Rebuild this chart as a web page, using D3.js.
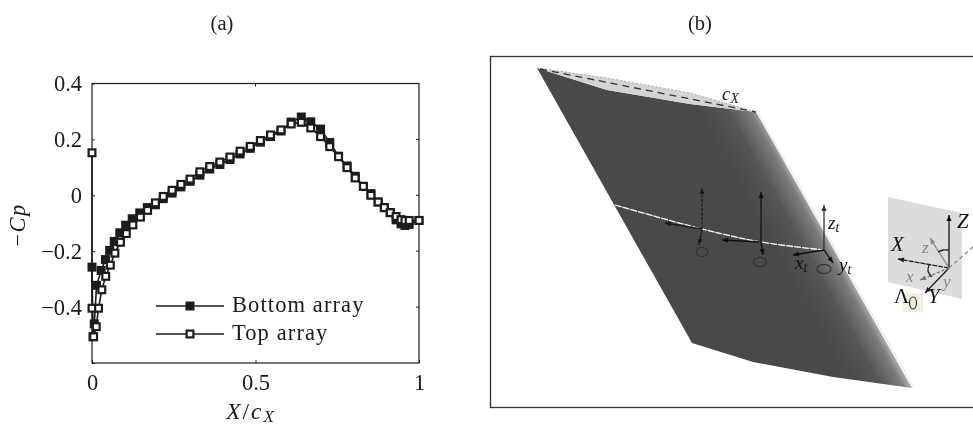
<!DOCTYPE html>
<html>
<head>
<meta charset="utf-8">
<script src="https://cdn.jsdelivr.net/npm/d3@7"></script>
<style>
  html, body { margin: 0; padding: 0; background: #fff; }
  svg { display: block; opacity: 0.999; }
  text { font-family: "Liberation Serif", serif; fill: #1a1a1a; }
  .math { font-style: italic; }
</style>
</head>
<body>
<svg id="chart" width="973" height="425"></svg>
<script>
// --- Panel (a) data ---
const topX = [0, 0, 0.005, 0.013, 0.02, 0.03, 0.042, 0.056, 0.07, 0.087, 0.105, 0.125, 0.148, 0.17, 0.194, 0.218, 0.245, 0.272, 0.30, 0.33, 0.36, 0.391, 0.422, 0.453, 0.484, 0.515, 0.546, 0.578, 0.609, 0.64, 0.669, 0.699, 0.727, 0.754, 0.78, 0.805, 0.83, 0.853, 0.875, 0.894, 0.912, 0.93, 0.945, 0.957, 0.97, 1];
const topY = [0.152, -0.404, -0.506, -0.47, -0.404, -0.338, -0.29, -0.25, -0.207, -0.168, -0.137, -0.106, -0.078, -0.054, -0.027, -0.004, 0.018, 0.039, 0.058, 0.084, 0.103, 0.119, 0.137, 0.158, 0.175, 0.196, 0.216, 0.234, 0.255, 0.261, 0.241, 0.21, 0.174, 0.138, 0.099, 0.062, 0.032, 0, -0.024, -0.044, -0.062, -0.076, -0.087, -0.09, -0.09, -0.09];
const bottomX = [0, 0.003, 0.007, 0.014, 0.028, 0.041, 0.054, 0.068, 0.085, 0.103, 0.123, 0.146, 0.169, 0.194, 0.218, 0.245, 0.272, 0.30, 0.33, 0.36, 0.391, 0.422, 0.453, 0.484, 0.515, 0.546, 0.578, 0.609, 0.64, 0.669, 0.699, 0.727, 0.754, 0.78, 0.805, 0.83, 0.853, 0.875, 0.894, 0.912, 0.93, 0.945, 0.957, 0.97, 1];
const bottomY = [-0.257, -0.506, -0.46, -0.322, -0.269, -0.23, -0.197, -0.165, -0.134, -0.107, -0.084, -0.063, -0.044, -0.034, -0.012, 0.008, 0.03, 0.05, 0.072, 0.094, 0.11, 0.128, 0.148, 0.168, 0.19, 0.21, 0.23, 0.262, 0.28, 0.263, 0.237, 0.189, 0.14, 0.105, 0.068, 0.032, 0.006, -0.024, -0.044, -0.062, -0.088, -0.102, -0.108, -0.104, -0.09];
const xTicks = [0, 0.5, 1];
const xTickLabels = ['0', '0.5', '1'];
const yTicks = [-0.6, -0.4, -0.2, 0, 0.2, 0.4];
const yTickLabels = ['', '\u22120.4', '\u22120.2', '0', '0.2', '0.4'];
const legendNames = ['Bottom array', 'Top array'];

// --- Panel (b) illustration outlines ---
const wingTop = [[537, 68], [607, 90], [690, 104], [756, 112]];
const wingRest = [[912, 388], [833, 377], [753, 362], [692, 343]];
const bandTop = [[537, 68], [607, 78], [690, 93], [756, 112]];
const sweepPlane = [[888, 197], [962, 213], [962, 299], [888, 282]];
const wirePts = [[615, 205], [702, 229], [761, 242], [824, 250]];

const svg = d3.select('#chart');
const margin = { left: 92, right: 419, top: 83.5, bottom: 363 };
const x = d3.scaleLinear().domain([0, 1]).range([margin.left, margin.right]);
const y = d3.scaleLinear().domain([-0.6, 0.4]).range([margin.bottom, margin.top]);

const ink = '#1c1c1c';
const fs = 22.5;

// --- Panel titles ---
svg.append('text').attr('x', 222).attr('y', 30).attr('font-size', 20.5).attr('text-anchor', 'middle').text('(a)');
svg.append('text').attr('x', 700).attr('y', 30).attr('font-size', 20.5).attr('text-anchor', 'middle').text('(b)');

// --- Panel (a) axes ---
const a = svg.append('g');
a.append('rect')
  .attr('x', margin.left).attr('y', margin.top)
  .attr('width', margin.right - margin.left).attr('height', margin.bottom - margin.top)
  .attr('fill', 'none').attr('stroke', ink).attr('stroke-width', 1.2);

const xAxis = d3.axisBottom(x).tickValues(xTicks).tickSize(-3).tickPadding(11)
  .tickFormat((d, i) => xTickLabels[i]);
const yAxis = d3.axisLeft(y).tickValues(yTicks).tickSize(-3).tickPadding(10)
  .tickFormat((d, i) => yTickLabels[i]);
const gx = a.append('g').attr('transform', `translate(0,${margin.bottom})`).call(xAxis);
const gy = a.append('g').attr('transform', `translate(${margin.left},0)`).call(yAxis);
[gx, gy].forEach(g => {
  g.select('.domain').remove();
  g.selectAll('line').attr('stroke', ink);
  g.selectAll('text').attr('font-size', fs).attr('font-family', '"Liberation Serif", serif').attr('fill', ink);
});
// mirrored ticks on top and right
a.selectAll('.tick-top').data(xTicks.slice(1, -1)).enter().append('line')
  .attr('x1', d => x(d)).attr('x2', d => x(d))
  .attr('y1', margin.top).attr('y2', margin.top + 3).attr('stroke', ink);
a.selectAll('.tick-right').data(yTicks.slice(1, -1)).enter().append('line')
  .attr('x1', margin.right - 3).attr('x2', margin.right)
  .attr('y1', d => y(d)).attr('y2', d => y(d)).attr('stroke', ink);

// axis titles
const xt = a.append('text').attr('x', 251).attr('y', 419).attr('font-size', 23.5)
  .attr('letter-spacing', 2).attr('text-anchor', 'middle');
xt.append('tspan').attr('class', 'math').text('X');
xt.append('tspan').text('/');
xt.append('tspan').attr('class', 'math').text('c');
xt.append('tspan').attr('class', 'math').attr('font-size', 17).attr('dy', 3).text('X');
a.append('text').attr('transform', 'translate(25,225) rotate(-90)')
  .attr('font-size', fs).attr('letter-spacing', 1.5).attr('text-anchor', 'middle')
  .html('\u2212<tspan class="math">Cp</tspan>');

// --- Panel (a) series ---
const zip = (xs, ys) => xs.map((d, i) => [d, ys[i]]);
const bottomPts = zip(bottomX, bottomY);
const topPts = zip(topX, topY);
const line = d3.line().x(d => x(d[0])).y(d => y(d[1]));
const s = 6.8;

function drawSeries(pts, filled) {
  a.append('path').attr('d', line(pts)).attr('fill', 'none').attr('stroke', ink).attr('stroke-width', 1.6);
  a.selectAll(null).data(pts).enter().append('rect')
    .attr('x', d => x(d[0]) - s / 2).attr('y', d => y(d[1]) - s / 2)
    .attr('width', s).attr('height', s)
    .attr('fill', filled ? ink : '#fff').attr('stroke', ink).attr('stroke-width', 2.2);
}
drawSeries(bottomPts, true);
drawSeries(topPts, false);

// legend
legendNames.forEach((name, i) => {
  const ly = 306 + i * 28;
  a.append('line').attr('x1', 156).attr('x2', 224).attr('y1', ly).attr('y2', ly)
    .attr('stroke', ink).attr('stroke-width', 1.7);
  a.append('rect').attr('x', 190 - s / 2).attr('y', ly - s / 2).attr('width', s).attr('height', s)
    .attr('fill', i === 0 ? ink : '#fff').attr('stroke', ink).attr('stroke-width', 2.2);
  a.append('text').attr('x', 232).attr('y', ly + 6).attr('font-size', fs).attr('letter-spacing', 1.1).text(name);
});

// --- Panel (b) ---
const b = svg.append('g');
const defs = svg.append('defs');
const grad = defs.append('linearGradient').attr('id', 'wingShade')
  .attr('gradientUnits', 'userSpaceOnUse')
  .attr('x1', 712).attr('y1', 136).attr('x2', 757).attr('y2', 111);
grad.append('stop').attr('offset', 0).attr('stop-color', '#4a4a4a');
grad.append('stop').attr('offset', 0.5).attr('stop-color', '#555');
grad.append('stop').attr('offset', 0.88).attr('stop-color', '#7c7c7c');
grad.append('stop').attr('offset', 1).attr('stop-color', '#a8a8a8');
defs.append('filter').attr('id', 'soft').append('feGaussianBlur').attr('stdDeviation', 0.6);

const poly = d3.line();
const smooth = d3.line().curve(d3.curveCatmullRom);
b.append('rect').attr('x', 490.5).attr('y', 56.5).attr('width', 490).attr('height', 351)
  .attr('fill', '#fff').attr('stroke', '#333').attr('stroke-width', 1.3);
const art = b.append('g').attr('filter', 'url(#soft)');
art.append('path').attr('d', poly(wingTop.concat(wingRest)) + 'Z').attr('fill', 'url(#wingShade)');
art.append('path').attr('d', poly(bandTop.concat(wingTop.slice().reverse())) + 'Z').attr('fill', '#d4d4d4');
art.append('path').attr('d', poly(bandTop)).attr('stroke', '#999').attr('stroke-width', 0.8).attr('stroke-dasharray', '2 2').attr('fill', 'none');
art.append('path').attr('d', poly([[540, 69], [756, 112]])).attr('stroke', '#333').attr('stroke-width', 1.3).attr('stroke-dasharray', '7 5').attr('fill', 'none');
art.append('path').attr('d', poly([[758, 113], [914, 388]])).attr('stroke', '#e8e8e8').attr('stroke-width', 1.3).attr('fill', 'none');
art.append('path').attr('d', smooth(wirePts)).attr('stroke', '#fff').attr('stroke-width', 1.3).attr('stroke-dasharray', '7 1').attr('fill', 'none');
art.append('path').attr('d', poly(sweepPlane) + 'Z').attr('fill', '#dcdcdc');
art.append('rect').attr('x', 903).attr('y', 293).attr('width', 20).attr('height', 19).attr('fill', '#f3ece2');

// arrows: [x1, y1, x2, y2, colour, dash]
const arrows = [
  [702, 229, 702, 188, '#1a1a1a', '3 1.5'], [702, 229, 665, 223, '#1a1a1a', ''], [702, 229, 699, 245, '#1a1a1a', ''],
  [761, 242, 761, 192, '#111', ''], [761, 242, 722, 240, '#111', ''], [761, 242, 763, 255, '#111', ''],
  [824, 250, 824, 205, '#333', ''], [824, 250, 793, 255, '#111', ''], [824, 250, 833, 263, '#111', ''],
  [949, 268, 949, 215, '#111', ''], [949, 268, 898, 259, '#222', '5 1'], [949, 268, 925, 293, '#222', ''],
  [949, 268, 930, 238, '#888', ''], [949, 268, 920, 280, '#777', '3 2']
];
arrows.forEach(([x1, y1, x2, y2, c, dash]) => {
  art.append('line').attr('x1', x1).attr('y1', y1).attr('x2', x2).attr('y2', y2)
    .attr('stroke', c).attr('stroke-width', 1.3).attr('stroke-dasharray', dash || null);
  const ang = Math.atan2(y2 - y1, x2 - x1) * 180 / Math.PI;
  art.append('path').attr('d', 'M0,0L-6,-2.5L-6,2.5Z').attr('fill', c)
    .attr('transform', `translate(${x2},${y2}) rotate(${ang})`);
});
art.append('path').attr('d', poly([[949, 268], [975, 245]])).attr('stroke', '#888').attr('stroke-width', 1.3).attr('stroke-dasharray', '4 3').attr('fill', 'none');
// angle arcs between the two frames
[[[938, 252], [943, 250], [949, 250]], [[929, 265], [928, 271], [932, 277]]].forEach(pts => {
  art.append('path').attr('d', smooth(pts)).attr('stroke', '#222').attr('stroke-width', 1.3).attr('fill', 'none');
});
// rotation rings: [cx, cy, rx, ry]
[[702, 252, 6, 4.5], [760, 262, 6.5, 4.5], [824, 269, 7, 4.5], [913, 303, 3.5, 6]].forEach(([cx, cy, rx, ry]) => {
  art.append('ellipse').attr('cx', cx).attr('cy', cy).attr('rx', rx).attr('ry', ry)
    .attr('fill', 'none').attr('stroke', '#333').attr('stroke-width', 1.2);
});

// labels: [text, subscript, x, y, size, colour]
const labels = [
  ['c', 'X', 722, 100, 19, '#222'], ['z', 't', 828, 229, 19, '#111'], ['x', 't', 795, 269, 19, '#111'],
  ['y', 't', 839, 271, 19, '#111'], ['X', '', 891, 251, 21, '#111'], ['Z', '', 957, 228, 21, '#111'],
  ['z', '', 922, 253, 17, '#888'], ['x', '', 906, 282, 17, '#888'], ['y', '', 943, 287, 17, '#888'],
  ['Y', '', 928, 303, 21, '#111']
];
labels.forEach(([t, sub, lx, ly, size, c]) => {
  const el = b.append('text').attr('x', lx).attr('y', ly).attr('font-size', size).attr('class', 'math').style('fill', c).text(t);
  if (sub) el.append('tspan').attr('font-size', size * 0.72).attr('dy', 3).text(sub);
});
b.append('text').attr('x', 894).attr('y', 303).attr('font-size', 21).style('fill', '#111').text('\u039b');
</script>
</body>
</html>
